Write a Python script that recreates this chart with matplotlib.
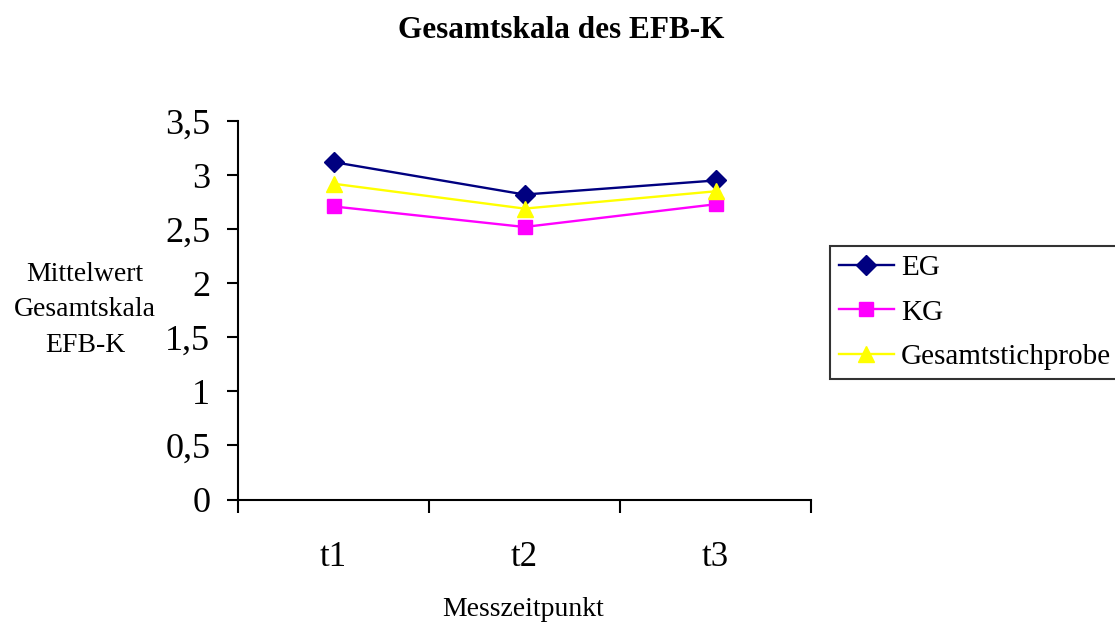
import matplotlib
matplotlib.use("Agg")
import matplotlib.pyplot as plt
from matplotlib.ticker import FixedLocator, NullFormatter, FixedFormatter

categories = ["t1", "t2", "t3"]
eg = [3.12, 2.82, 2.95]
kg = [2.71, 2.52, 2.73]
gesamt = [2.92, 2.69, 2.85]
y_ticks = [0, 0.5, 1, 1.5, 2, 2.5, 3, 3.5]
y_tick_labels = ["0", "0,5", "1", "1,5", "2", "2,5", "3", "3,5"]

plt.rcParams['font.family'] = ['Liberation Serif', 'DejaVu Serif']

fig = plt.figure(figsize=(11.15, 6.22), dpi=100)
ax = fig.add_axes([238/1115, 1-499.5/622, (811-238)/1115, (499.5-121)/622])

x = [1, 2, 3]
ax.plot(x, eg, color="#000080", marker="D", markersize=10, lw=1.7, label="EG", clip_on=False, zorder=3)
ax.plot(x, kg, color="#FF00FF", marker="s", markersize=10.5, lw=1.7, label="KG", clip_on=False, zorder=3)
ax.plot(x, gesamt, color="#FFFF00", marker="^", markersize=11, lw=1.7, label="Gesamtstichprobe", clip_on=False, zorder=3)

ax.set_xlim(0.5, 3.5)
ax.set_ylim(0, 3.5)

ax.xaxis.set_major_locator(FixedLocator([0.5, 1.5, 2.5, 3.5]))
ax.xaxis.set_major_formatter(NullFormatter())
ax.xaxis.set_minor_locator(FixedLocator(x))
ax.xaxis.set_minor_formatter(FixedFormatter(categories))
ax.tick_params(axis='x', which='major', direction='out', length=9.5, width=1.5, color='black')
ax.tick_params(axis='x', which='minor', length=0, pad=30, labelsize=25)

ax.set_yticks(y_ticks)
ax.set_yticklabels(y_tick_labels)
ax.tick_params(axis='y', which='major', direction='out', length=8, width=1.5, pad=12, labelsize=26)

for s in ['top', 'right']:
    ax.spines[s].set_visible(False)
for s in ['left', 'bottom']:
    ax.spines[s].set_linewidth(1.5)
    ax.spines[s].set_color('black')

fig.text(561/1115, 1-38/622, "Gesamtskala des EFB-K", ha='center', va='baseline',
         fontsize=22.5, fontweight='bold')
fig.text(85/1115, 1-310/622, "Mittelwert\nGesamtskala\nEFB-K", ha='center', va='center',
         multialignment='center', fontsize=20, linespacing=1.56)
fig.text(523.5/1115, 1-616/622, "Messzeitpunkt", ha='center', va='baseline', fontsize=20)

leg = fig.legend(loc='upper left', bbox_to_anchor=(830/1115, 1-246/622),
                 bbox_transform=fig.transFigure, fontsize=21, frameon=True,
                 fancybox=False, shadow=False, borderpad=0.3, labelspacing=0.62,
                 handlelength=1.88, handletextpad=0.25, borderaxespad=0)
leg.get_frame().set_edgecolor('black')
leg.get_frame().set_linewidth(1.5)

fig.savefig("out.png", dpi=100)
